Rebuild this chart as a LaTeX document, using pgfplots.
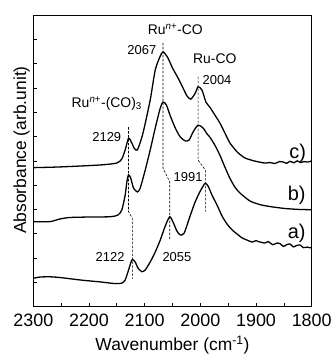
\documentclass[border=0pt]{standalone}
\usepackage{pgfplots}
\pgfplotsset{compat=1.18}
\usepackage{fontspec}
\setmainfont{Liberation Sans}
\begin{document}
\begin{tikzpicture}
\begin{axis}[
  scale only axis,
  width=278.4bp, height=291.7bp,
  x dir=reverse,
  xmin=1800, xmax=2300, ymin=0, ymax=12,
  xtick={1800,1900,2000,2100,2200,2300},
  minor xtick={1850,1950,2050,2150,2250},
  ytick={1,2,3,4,5,6,7,8,9,10,11},
  yticklabels={},
  tick pos=left,
  tick align=inside,
  major tick length=3.5bp,
  minor tick length=3.5bp,
  every tick/.style={black, line width=0.7pt},
  axis line style={line width=0.9pt},
  /pgf/number format/.cd, 1000 sep={}, assume math mode=true,
  /pgfplots/.cd,
  tick label style={font=\fontsize{18}{20}\selectfont},
  xticklabel style={anchor=center, yshift=-13.5bp},
  xlabel={Wavenumber (cm\textsuperscript{-1})},
  ylabel={Absorbance (arb.unit)},
  label style={font=\fontsize{17.5}{20}\selectfont},
  xlabel style={at={(axis description cs:0.5,0)}, anchor=center, yshift=-38.3bp},
  ylabel style={at={(axis description cs:0,0.537)}, anchor=center, yshift=11.6bp},
  clip=false,
]
% curve a
\addplot[black, line width=1.3pt, smooth, tension=0.4] coordinates {
(2300,1.17)(2288,1.22)(2270,1.23)(2252,1.20)(2216,1.10)(2180,1.02)(2153,0.95)(2141,0.97)
(2135,1.10)(2130,1.43)(2125,1.80)(2122,1.95)(2117,1.84)(2112,1.59)(2105,1.44)(2099,1.51)
(2090,1.84)(2081,2.25)(2072,2.74)(2063,3.32)(2055,3.70)(2049,3.48)(2042,3.11)(2036,2.95)
(2029,3.03)(2019,3.69)(2010,4.27)(2001,4.72)(1995,4.96)(1991,5.08)(1986,4.96)(1979,4.59)
(1970,4.18)(1961,3.73)(1952,3.40)(1943,3.16)(1934,2.99)(1925,2.83)(1916,2.74)(1907,2.66)
(1900,2.72)(1896,2.68)(1884,2.62)(1878,2.68)(1870,2.55)(1862,2.62)(1857,2.60)(1851,2.48)
(1845,2.55)(1839,2.58)(1833,2.46)(1827,2.52)(1821,2.54)(1815,2.43)(1808,2.45)(1800,2.41)
};
% curve b
\addplot[black, line width=1.3pt, smooth, tension=0.4] coordinates {
(2300,3.50)(2270,3.50)(2252,3.61)(2234,3.67)(2198,3.69)(2162,3.70)(2148,3.77)(2141,3.98)
(2135,4.59)(2132,5.13)(2129,5.42)(2125,5.29)(2120,4.88)(2113,4.72)(2108,4.88)(2099,5.62)
(2090,6.45)(2081,7.35)(2072,8.17)(2067,8.42)(2061,8.30)(2054,7.85)(2045,7.35)(2036,6.98)
(2027,6.82)(2020,6.86)(2013,7.19)(2004,7.47)(1995,7.35)(1988,7.11)(1983,6.98)(1974,6.65)
(1965,6.24)(1956,5.75)(1947,5.29)(1938,4.92)(1929,4.68)(1911,4.35)(1893,4.20)(1875,4.12)
(1848,4.04)(1822,4.00)(1800,3.99)
};
% curve c
\addplot[black, line width=1.3pt, smooth, tension=0.4] coordinates {
(2300,5.72)(2252,5.75)(2180,5.83)(2150,5.91)(2141,6.08)(2135,6.45)(2129,6.93)(2124,6.78)
(2119,6.53)(2113,6.45)(2103,7.14)(2090,8.51)(2081,9.74)(2072,10.31)(2067,10.48)(2059,10.27)
(2050,9.82)(2041,9.45)(2032,9.04)(2024,8.67)(2017,8.54)(2009,8.79)(2004,9.05)(1997,8.91)
(1990,8.42)(1983,8.21)(1974,7.89)(1965,7.56)(1956,7.15)(1947,6.74)(1934,6.37)(1920,6.12)
(1902,5.99)(1884,5.91)(1875,5.93)(1866,5.89)(1858,5.97)(1851,5.95)(1845,5.90)(1839,5.98)
(1832,5.92)(1826,6.00)(1820,5.93)(1814,5.97)(1807,5.95)(1800,6.00)
};
% dashed guide lines
\addplot[black, line width=0.6pt, dash pattern=on 2.5pt off 1.5pt] coordinates {
(2129,7.39)(2129,3.91)(2122,3.64)(2122,1.14)};
\addplot[black, line width=0.6pt, dash pattern=on 2.5pt off 1.5pt] coordinates {
(2067,10.85)(2067,5.69)(2055,5.14)(2055,2.74)};
\addplot[black, line width=0.6pt, dash pattern=on 2.5pt off 1.5pt] coordinates {
(2004,9.46)(2004,6.03)(1991,5.62)(1991,3.91)};
% labels
\node[font=\fontsize{14}{16}\selectfont] at (axis cs:2045,11.4) {Ru\textsuperscript{\textit{n}+}-CO};
\node[font=\fontsize{13}{15}\selectfont] at (axis cs:2105,10.56) {2067};
\node[font=\fontsize{14}{16}\selectfont] at (axis cs:1974,10.22) {Ru-CO};
\node[font=\fontsize{13}{15}\selectfont] at (axis cs:1970,9.33) {2004};
\node[font=\fontsize{14}{16}\selectfont] at (axis cs:2168,8.37) {Ru\textsuperscript{\textit{n}+}-(CO)\textsubscript{3}};
\node[font=\fontsize{13}{15}\selectfont] at (axis cs:2168,6.99) {2129};
\node[font=\fontsize{13}{15}\selectfont] at (axis cs:2022,5.35) {1991};
\node[font=\fontsize{13}{15}\selectfont] at (axis cs:2162,2.06) {2122};
\node[font=\fontsize{13}{15}\selectfont] at (axis cs:2042,2.06) {2055};
\node[font=\fontsize{20}{22}\selectfont] at (axis cs:1825,6.31) {c)};
\node[font=\fontsize{20}{22}\selectfont] at (axis cs:1827,4.59) {b)};
\node[font=\fontsize{20}{22}\selectfont] at (axis cs:1827,3.02) {a)};
\end{axis}
\pgfresetboundingbox
\path ([shift={(-33.3bp,-47.3bp)}]current axis.south west) rectangle ([shift={(21.3bp,15bp)}]current axis.north east);
\end{tikzpicture}
\end{document}
